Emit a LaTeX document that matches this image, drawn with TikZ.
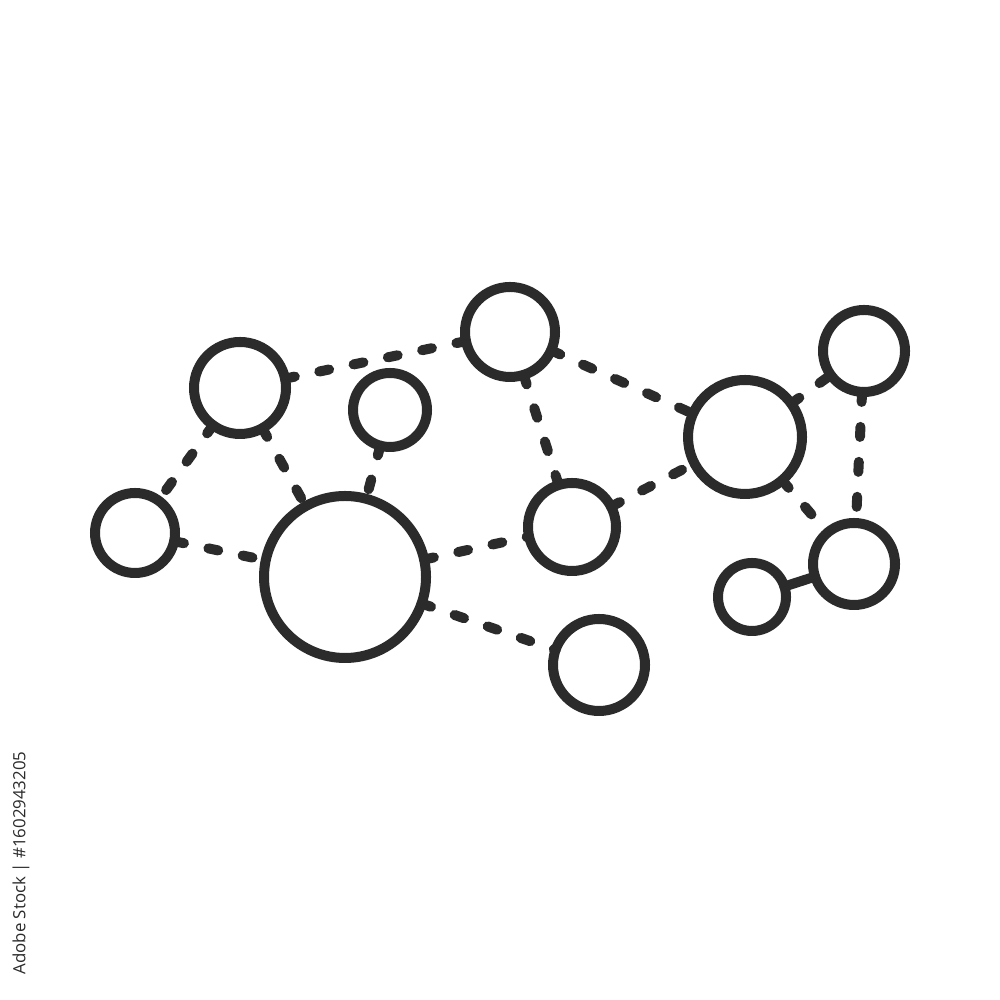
\documentclass[tikz,border=0pt]{standalone}
\usepackage{fontspec}
\setsansfont{Open Sans}
\definecolor{cDark}{HTML}{2B2B2B}
\usetikzlibrary{calc}
\tikzset{
	hub/.style={circle, draw=cDark, line width=0.1cm, inner sep=0pt, outer sep=0pt, minimum size=#1},
	link/.style={cDark, line width=0.1cm, line cap=round, dash pattern=on 0.1cm off 0.25cm},
	bond/.style={cDark, line width=0.1cm, line cap=round}
}

\begin{document}
\begin{tikzpicture}
		\useasboundingbox [fill=white] (0,0) rectangle (10,10);
		\node[hub=0.92cm] (nw) at (2.40,6.12) {};
		\node[hub=0.74cm] (sm) at (3.90,5.90) {};
		\node[hub=0.90cm] (top) at (5.10,6.68) {};
		\node[hub=1.14cm] (east) at (7.45,5.63) {};
		\node[hub=0.82cm] (ne) at (8.64,6.49) {};
		\node[hub=0.80cm] (west) at (1.35,4.67) {};
		\node[hub=1.62cm] (core) at (3.45,4.23) {};
		\node[hub=0.88cm] (mid) at (5.72,4.73) {};
		\node[hub=0.92cm] (south) at (5.99,3.35) {};
		\node[hub=0.68cm] (tiny) at (7.52,4.03) {};
		\node[hub=0.82cm] (se) at (8.54,4.36) {};
		\draw [link] (nw) -- (top);
		\draw [link] (nw) -- (west);
		\draw [link] (nw) -- (core);
		\draw [link] (sm) -- (core);
		\draw [link] (west) -- (core);
		\draw [link] (core) -- (mid);
		\draw [link] (core) -- (south);
		\draw [link] (top) -- (mid);
		\draw [link] (top) -- (east);
		\draw [link] (mid) -- (east);
		\draw [link] (east) -- (ne);
		\draw [link] (east) -- (se);
		\draw [link] (ne) -- (se);
		\draw [bond] (tiny) -- (se);
		% stock id on the left edge
		\node[rotate=90, text=cDark, font=\sffamily\fontsize{4.8}{5.5}\selectfont] (stamp) at (0.21,1.37) {Adobe Stock | \#1602943205};
		\end{tikzpicture}
\end{document}
